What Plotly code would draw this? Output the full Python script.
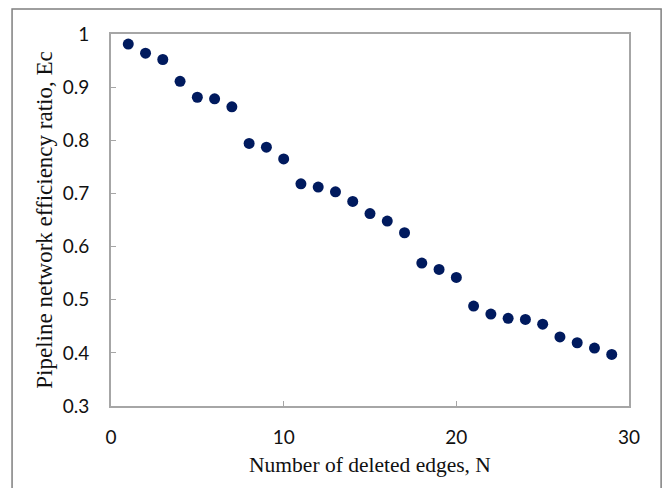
import plotly.graph_objects as go

n_deleted = list(range(1, 30))
efficiency = [0.981, 0.964, 0.952, 0.911, 0.881, 0.878, 0.863, 0.794, 0.787, 0.765,
              0.718, 0.712, 0.703, 0.685, 0.662, 0.648, 0.626, 0.569, 0.557, 0.542,
              0.488, 0.473, 0.465, 0.463, 0.454, 0.430, 0.419, 0.409, 0.397]

x_ticks = [0, 10, 20, 30]
y_ticks = [0.3, 0.4, 0.5, 0.6, 0.7, 0.8, 0.9, 1.0]
y_ticktext = ["0.3", "0.4", "0.5", "0.6", "0.7", "0.8", "0.9", "1"]

fig = go.Figure()
fig.add_trace(go.Scatter(
    x=n_deleted, y=efficiency, mode="markers",
    marker=dict(size=11, color="#001a5e"),
    showlegend=False,
))

axis_common = dict(
    showline=True, mirror=True, linecolor="#a6a6a6", linewidth=2,
    ticks="inside", ticklen=5, tickcolor="#a6a6a6", tickwidth=1,
    showgrid=False, zeroline=False,
    tickfont=dict(family="Lato", size=19, color="#111111"),
)

fig.update_layout(
    width=664, height=488,
    margin=dict(l=111, r=35, t=34, b=82),
    paper_bgcolor="white", plot_bgcolor="white",
    xaxis=dict(
        range=[0, 30], tickvals=x_ticks, ticklabelstandoff=13,
        title=dict(text="Number of deleted edges, N",
                   font=dict(family="Liberation Serif", size=21.5, color="#111111"),
                   standoff=10),
        **axis_common,
    ),
    yaxis=dict(
        range=[0.3, 1.0], tickvals=y_ticks, ticktext=y_ticktext, ticklabelstandoff=16,
        title=dict(text="Pipeline network efficiency ratio, Ec",
                   font=dict(family="Liberation Serif", size=23, color="#111111"),
                   standoff=4),
        **axis_common,
    ),
    shapes=[dict(
        type="rect", xref="paper", yref="paper",
        x0=-0.191, x1=1.062, y0=-0.4, y1=1.067,
        line=dict(color="#7f7f7f", width=1.5), layer="below",
    )],
)

fig.write_html("out.html")
